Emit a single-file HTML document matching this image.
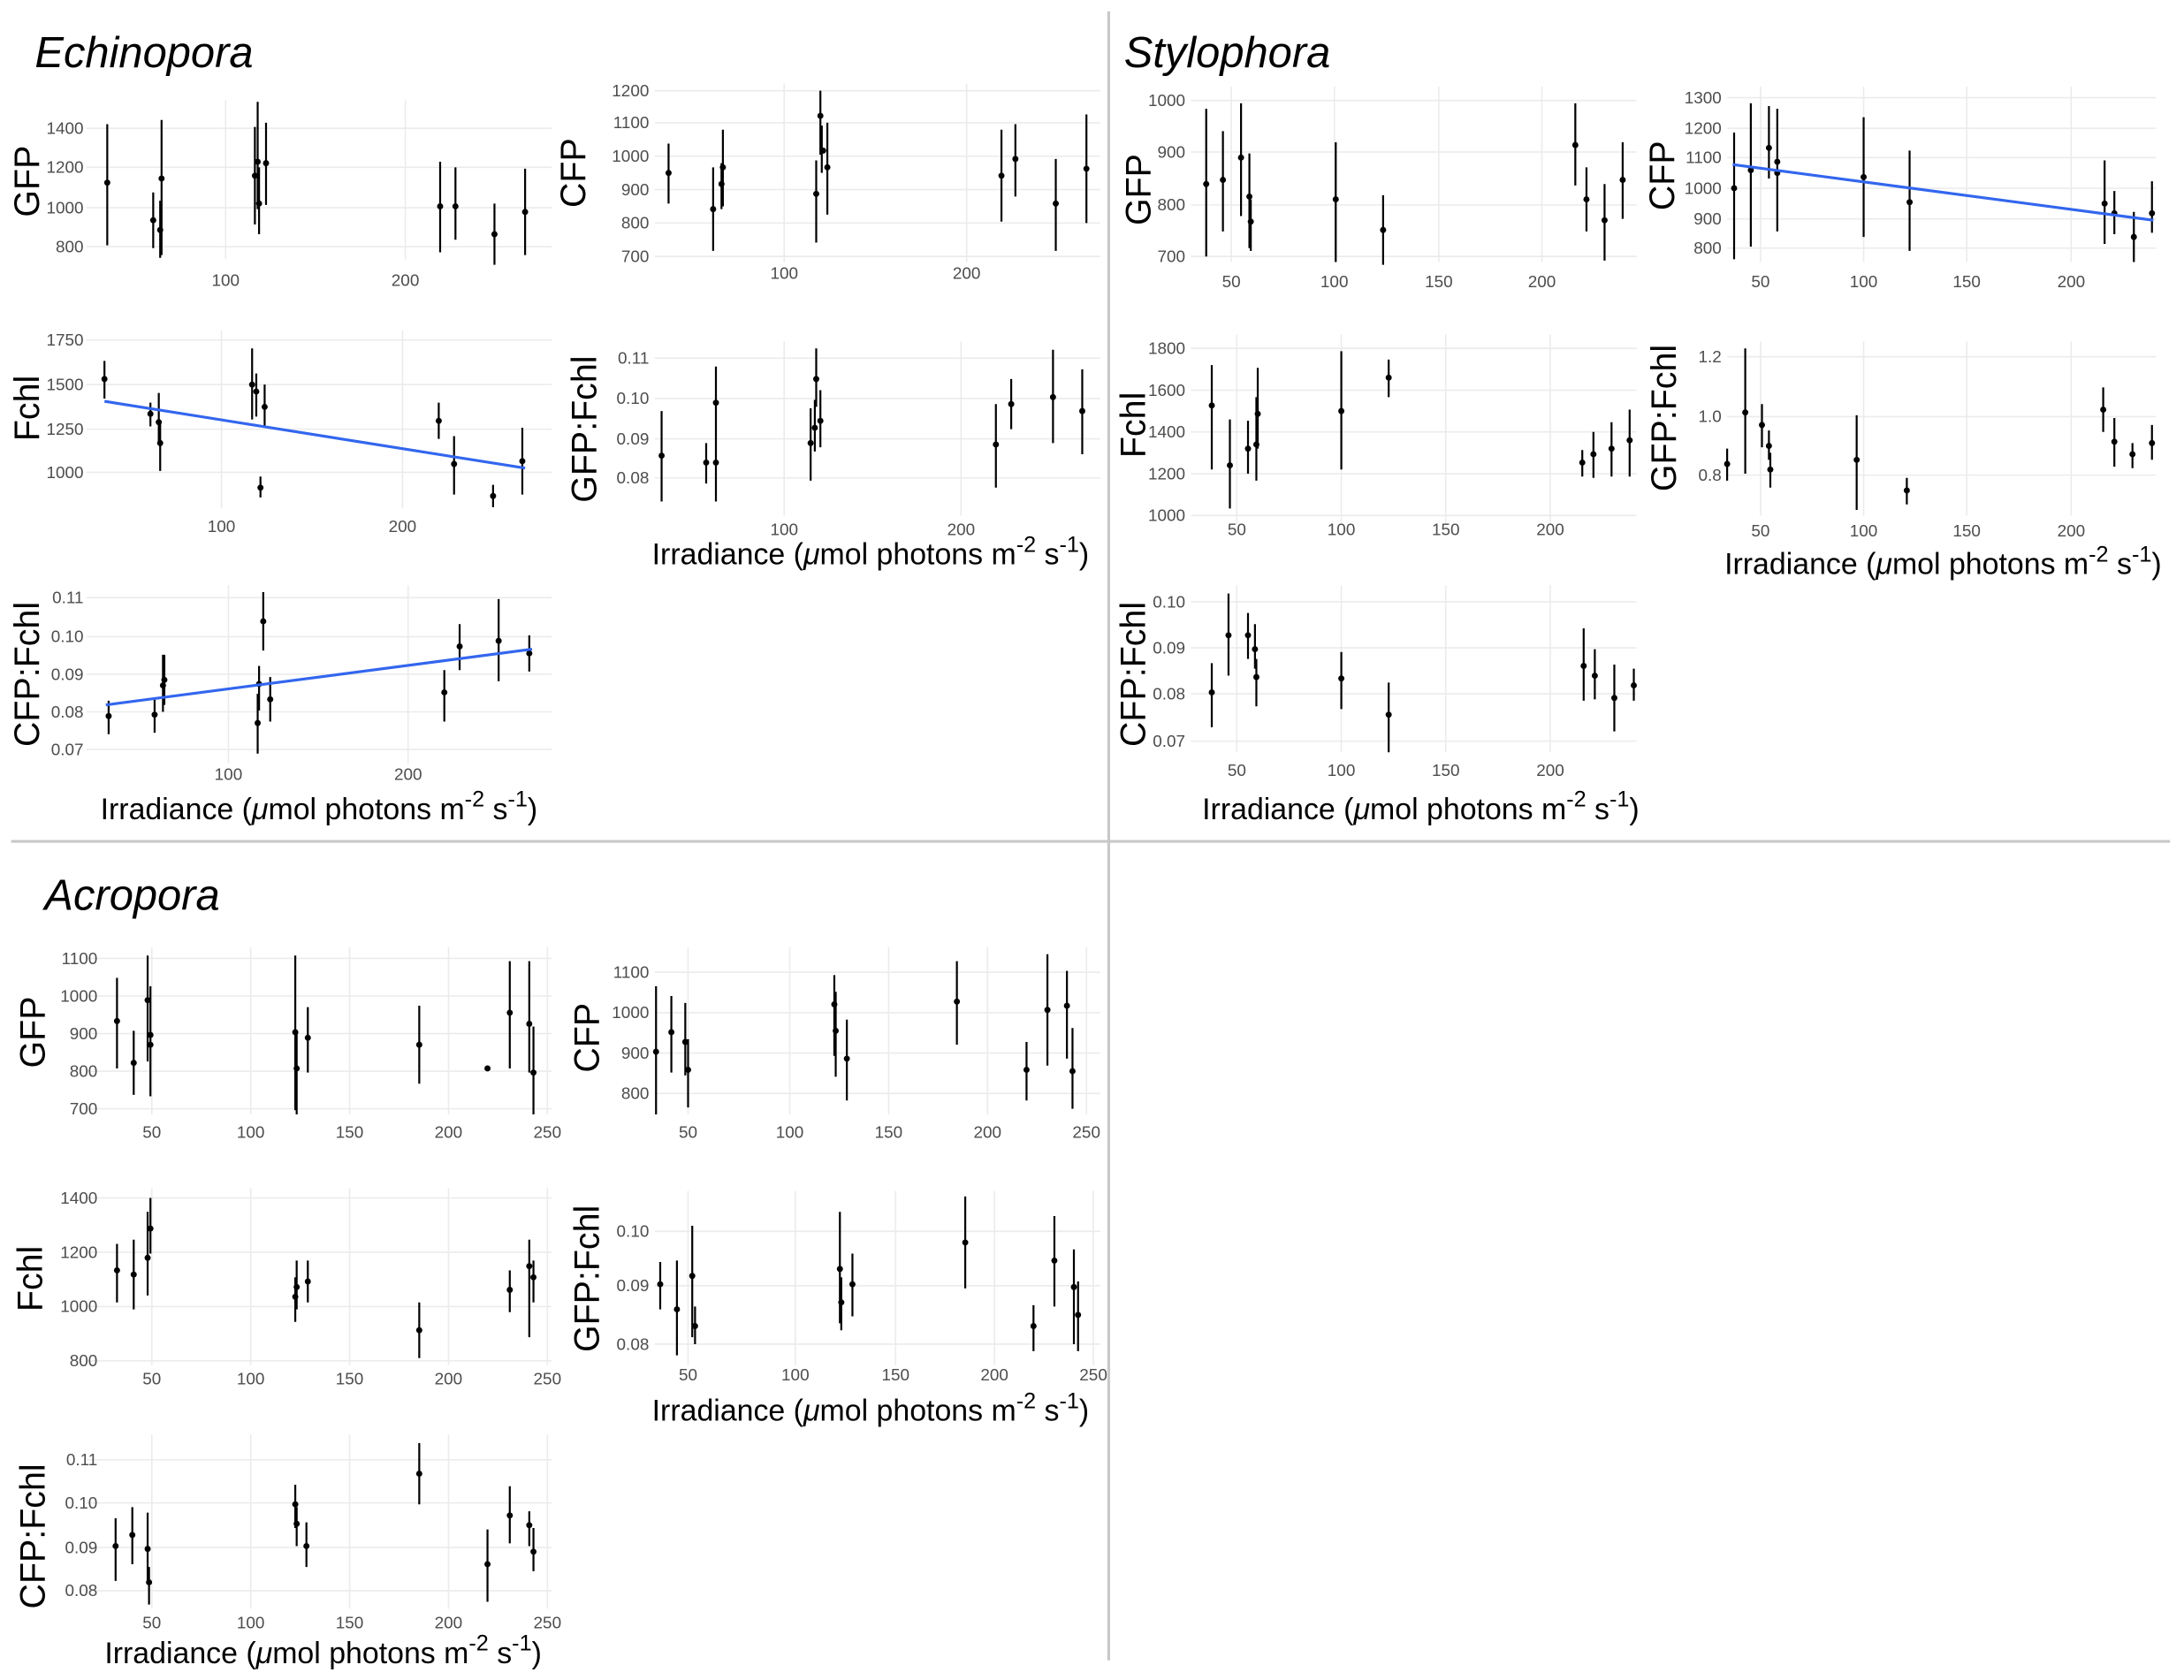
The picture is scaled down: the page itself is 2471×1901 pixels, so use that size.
<!DOCTYPE html>
<html><head><meta charset="utf-8"><style>
html,body{margin:0;padding:0;background:#fff}
svg{display:block}
text{font-family:"Liberation Sans",sans-serif}
.t{font-size:12px;fill:#4d4d4d}
.yl{font-size:25px;fill:#000}
.xl{font-size:21.5px;fill:#000}
.h{font-size:31px;font-style:italic;fill:#000}
.g{stroke:#ebebeb;stroke-width:1}
.e{stroke:#000;stroke-width:1.4;fill:none}
.r{stroke:#3366ee;stroke-width:2;fill:none}
</style></head><body>
<svg width="2471" height="1901" viewBox="0 0 1568 1206" xmlns="http://www.w3.org/2000/svg">
<rect width="1568" height="1206" fill="#fff"/>
<line x1="796" y1="8" x2="796" y2="1192" stroke="#c8c8c8" stroke-width="2"/>
<line x1="8" y1="604" x2="1558" y2="604" stroke="#c8c8c8" stroke-width="2"/>
<text class="h" x="25" y="48">Echinopora</text>
<text class="h" x="807" y="48">Stylophora</text>
<text class="h" x="32" y="653">Acropora</text>

<!-- Echinopora GFP -->
<g class="g"><path d="M62 92H396M62 120H396M62 149H396M62 177H396M162 72V186M291 72V186"/></g>
<g class="t" text-anchor="end"><text x="60" y="96">1400</text><text x="60" y="124">1200</text><text x="60" y="153">1000</text><text x="60" y="181">800</text></g>
<g class="t" text-anchor="middle"><text x="162" y="205">100</text><text x="291" y="205">200</text></g>
<text class="yl" transform="translate(28,130) rotate(-90)" text-anchor="middle">GFP</text>
<path class="e" d="M77 89V176M110 138V178M115 144V185M116 86V183M183 91V161M185 73V150M186 120V168M191 88V147M316 116V181M327 120V172M355 146V190M377 121V183"/>
<g><circle cx="77" cy="131" r="2.2"/><circle cx="110" cy="158" r="2.2"/><circle cx="115" cy="165" r="2.2"/><circle cx="116" cy="128" r="2.2"/><circle cx="183" cy="126" r="2.2"/><circle cx="185" cy="116" r="2.2"/><circle cx="186" cy="146" r="2.2"/><circle cx="191" cy="117" r="2.2"/><circle cx="316" cy="148" r="2.2"/><circle cx="327" cy="148" r="2.2"/><circle cx="355" cy="168" r="2.2"/><circle cx="377" cy="152" r="2.2"/></g>

<!-- Echinopora CFP -->
<g class="g"><path d="M470 65H790M470 88H790M470 112H790M470 136H790M470 160H790M470 184H790M563 60V188M694 60V188"/></g>
<g class="t" text-anchor="end"><text x="466" y="69">1200</text><text x="466" y="92">1100</text><text x="466" y="116">1000</text><text x="466" y="140">900</text><text x="466" y="164">800</text><text x="466" y="188">700</text></g>
<g class="t" text-anchor="middle"><text x="563" y="200">100</text><text x="694" y="200">200</text></g>
<text class="yl" transform="translate(420,124) rotate(-90)" text-anchor="middle">CFP</text>
<path class="e" d="M480 103V146M512 120V180M518 117V150M519 93V148M586 115V174M589 65V111M590 90V124M594 88V154M719 93V159M729 89V141M758 114V180M780 82V160"/>
<g><circle cx="480" cy="124" r="2.2"/><circle cx="512" cy="150" r="2.2"/><circle cx="518" cy="132" r="2.2"/><circle cx="519" cy="120" r="2.2"/><circle cx="586" cy="139" r="2.2"/><circle cx="589" cy="83" r="2.2"/><circle cx="591" cy="108" r="2.2"/><circle cx="594" cy="120" r="2.2"/><circle cx="719" cy="126" r="2.2"/><circle cx="729" cy="114" r="2.2"/><circle cx="758" cy="146" r="2.2"/><circle cx="780" cy="121" r="2.2"/></g>

<!-- Echinopora Fchl -->
<g class="g"><path d="M62 244H396M62 276H396M62 308H396M62 339H396M159 237V365M289 237V365"/></g>
<g class="t" text-anchor="end"><text x="60" y="248">1750</text><text x="60" y="280">1500</text><text x="60" y="312">1250</text><text x="60" y="343">1000</text></g>
<g class="t" text-anchor="middle"><text x="159" y="382">100</text><text x="289" y="382">200</text></g>
<text class="yl" transform="translate(28,293) rotate(-90)" text-anchor="middle">Fchl</text>
<path class="e" d="M75 259V286M108 289V306M114 282V319M115 303V338M181 250V301M184 268V299M187 342V357M190 276V306M315 289V315M326 313V355M354 348V364M375 307V355"/>
<g><circle cx="75" cy="272" r="2.2"/><circle cx="108" cy="297" r="2.2"/><circle cx="114" cy="303" r="2.2"/><circle cx="115" cy="318" r="2.2"/><circle cx="181" cy="276" r="2.2"/><circle cx="184" cy="281" r="2.2"/><circle cx="187" cy="350" r="2.2"/><circle cx="190" cy="292" r="2.2"/><circle cx="315" cy="302" r="2.2"/><circle cx="326" cy="333" r="2.2"/><circle cx="354" cy="356" r="2.2"/><circle cx="375" cy="331" r="2.2"/></g>
<line class="r" x1="75" y1="288" x2="377" y2="336"/>

<!-- Echinopora GFP:Fchl -->
<g class="g"><path d="M470 257H790M470 286H790M470 315H790M470 343H790M563 245V370M690 245V370"/></g>
<g class="t" text-anchor="end"><text x="466" y="261">0.11</text><text x="466" y="290">0.10</text><text x="466" y="319">0.09</text><text x="466" y="347">0.08</text></g>
<g class="t" text-anchor="middle"><text x="563" y="384">100</text><text x="690" y="384">200</text></g>
<text class="yl" transform="translate(428,308) rotate(-90)" text-anchor="middle">GFP:Fchl</text>
<text class="xl" x="625" y="405" text-anchor="middle">Irradiance (<tspan font-style="italic">μ</tspan>mol photons m<tspan dy="-9" font-size="16">-2</tspan><tspan dy="9"> s</tspan><tspan dy="-9" font-size="16">-1</tspan><tspan dy="9">)</tspan></text>
<path class="e" d="M475 295V360M507 318V347M514 263V360M514 318V347M582 293V345M585 287V324M586 250V292M589 280V321M715 290V350M726 272V308M756 251V318M777 265V326"/>
<g><circle cx="475" cy="327" r="2.2"/><circle cx="507" cy="332" r="2.2"/><circle cx="514" cy="289" r="2.2"/><circle cx="514" cy="332" r="2.2"/><circle cx="582" cy="318" r="2.2"/><circle cx="585" cy="307" r="2.2"/><circle cx="586" cy="272" r="2.2"/><circle cx="589" cy="302" r="2.2"/><circle cx="715" cy="319" r="2.2"/><circle cx="726" cy="290" r="2.2"/><circle cx="756" cy="285" r="2.2"/><circle cx="777" cy="295" r="2.2"/></g>

<!-- Echinopora CFP:Fchl -->
<g class="g"><path d="M62 429H396M62 457H396M62 484H396M62 511H396M62 538H396M164 420V548M293 420V548"/></g>
<g class="t" text-anchor="end"><text x="60" y="433">0.11</text><text x="60" y="461">0.10</text><text x="60" y="488">0.09</text><text x="60" y="515">0.08</text><text x="60" y="542">0.07</text></g>
<g class="t" text-anchor="middle"><text x="164" y="560">100</text><text x="293" y="560">200</text></g>
<text class="yl" transform="translate(28,484) rotate(-90)" text-anchor="middle">CFP:Fchl</text>
<text class="xl" x="229" y="588" text-anchor="middle">Irradiance (<tspan font-style="italic">μ</tspan>mol photons m<tspan dy="-9" font-size="16">-2</tspan><tspan dy="9"> s</tspan><tspan dy="-9" font-size="16">-1</tspan><tspan dy="9">)</tspan></text>
<path class="e" d="M78 503V527M111 502V526M117 470V511M118 470V506M185 498V541M186 478V510M189 425V467M194 486V518M319 481V518M330 448V481M358 430V489M380 456V482"/>
<g><circle cx="78" cy="514" r="2.2"/><circle cx="111" cy="513" r="2.2"/><circle cx="117" cy="492" r="2.2"/><circle cx="118" cy="488" r="2.2"/><circle cx="185" cy="519" r="2.2"/><circle cx="186" cy="491" r="2.2"/><circle cx="189" cy="446" r="2.2"/><circle cx="194" cy="502" r="2.2"/><circle cx="319" cy="497" r="2.2"/><circle cx="330" cy="464" r="2.2"/><circle cx="358" cy="460" r="2.2"/><circle cx="380" cy="469" r="2.2"/></g>
<line class="r" x1="76" y1="506" x2="382" y2="466"/>

<!-- Stylophora GFP -->
<g class="g"><path d="M855 72H1175M855 109H1175M855 147H1175M855 184H1175M884 62V188M958 62V188M1033 62V188M1107 62V188"/></g>
<g class="t" text-anchor="end"><text x="851" y="76">1000</text><text x="851" y="113">900</text><text x="851" y="151">800</text><text x="851" y="188">700</text></g>
<g class="t" text-anchor="middle"><text x="884" y="206">50</text><text x="958" y="206">100</text><text x="1033" y="206">150</text><text x="1107" y="206">200</text></g>
<text class="yl" transform="translate(826,136) rotate(-90)" text-anchor="middle">GFP</text>
<path class="e" d="M866 78V184M878 94V166M891 74V155M897 110V178M898 143V180M959 102V188M993 140V190M1131 74V133M1139 120V166M1152 132V187M1165 102V157"/>
<g><circle cx="866" cy="132" r="2.2"/><circle cx="878" cy="129" r="2.2"/><circle cx="891" cy="113" r="2.2"/><circle cx="897" cy="141" r="2.2"/><circle cx="898" cy="159" r="2.2"/><circle cx="959" cy="143" r="2.2"/><circle cx="993" cy="165" r="2.2"/><circle cx="1131" cy="104" r="2.2"/><circle cx="1139" cy="143" r="2.2"/><circle cx="1152" cy="158" r="2.2"/><circle cx="1165" cy="129" r="2.2"/></g>

<!-- Stylophora CFP -->
<g class="g"><path d="M1240 70H1548M1240 92H1548M1240 113H1548M1240 135H1548M1240 157H1548M1240 178H1548M1264 62V188M1338 62V188M1412 62V188M1487 62V188"/></g>
<g class="t" text-anchor="end"><text x="1236" y="74">1300</text><text x="1236" y="96">1200</text><text x="1236" y="117">1100</text><text x="1236" y="139">1000</text><text x="1236" y="161">900</text><text x="1236" y="182">800</text></g>
<g class="t" text-anchor="middle"><text x="1264" y="206">50</text><text x="1338" y="206">100</text><text x="1412" y="206">150</text><text x="1487" y="206">200</text></g>
<text class="yl" transform="translate(1202,126) rotate(-90)" text-anchor="middle">CFP</text>
<path class="e" d="M1245 95V186M1257 74V177M1270 76V128M1276 78V166M1338 84V170M1371 108V180M1511 115V175M1518 137V168M1532 152V188M1545 130V167"/>
<g><circle cx="1245" cy="135" r="2.2"/><circle cx="1257" cy="122" r="2.2"/><circle cx="1270" cy="106" r="2.2"/><circle cx="1276" cy="116" r="2.2"/><circle cx="1276" cy="124" r="2.2"/><circle cx="1338" cy="127" r="2.2"/><circle cx="1371" cy="145" r="2.2"/><circle cx="1511" cy="146" r="2.2"/><circle cx="1518" cy="153" r="2.2"/><circle cx="1532" cy="170" r="2.2"/><circle cx="1545" cy="153" r="2.2"/></g>
<line class="r" x1="1244" y1="118" x2="1546" y2="158"/>

<!-- Stylophora Fchl -->
<g class="g"><path d="M855 250H1175M855 280H1175M855 310H1175M855 340H1175M855 370H1175M888 240V376M963 240V376M1038 240V376M1113 240V376"/></g>
<g class="t" text-anchor="end"><text x="851" y="254">1800</text><text x="851" y="284">1600</text><text x="851" y="314">1400</text><text x="851" y="344">1200</text><text x="851" y="374">1000</text></g>
<g class="t" text-anchor="middle"><text x="888" y="384">50</text><text x="963" y="384">100</text><text x="1038" y="384">150</text><text x="1113" y="384">200</text></g>
<text class="yl" transform="translate(822,305) rotate(-90)" text-anchor="middle">Fchl</text>
<path class="e" d="M870 262V337M883 301V365M896 302V340M902 285V345M903 264V322M963 252V337M997 258V285M1136 323V342M1144 310V343M1157 303V342M1170 294V342"/>
<g><circle cx="870" cy="291" r="2.2"/><circle cx="883" cy="334" r="2.2"/><circle cx="896" cy="322" r="2.2"/><circle cx="902" cy="319" r="2.2"/><circle cx="903" cy="297" r="2.2"/><circle cx="963" cy="295" r="2.2"/><circle cx="997" cy="271" r="2.2"/><circle cx="1136" cy="332" r="2.2"/><circle cx="1144" cy="326" r="2.2"/><circle cx="1157" cy="322" r="2.2"/><circle cx="1170" cy="316" r="2.2"/></g>

<!-- Stylophora GFP:Fchl -->
<g class="g"><path d="M1240 256H1548M1240 299H1548M1240 341H1548M1264 245V370M1338 245V370M1412 245V370M1487 245V370"/></g>
<g class="t" text-anchor="end"><text x="1236" y="260">1.2</text><text x="1236" y="303">1.0</text><text x="1236" y="345">0.8</text></g>
<g class="t" text-anchor="middle"><text x="1264" y="385">50</text><text x="1338" y="385">100</text><text x="1412" y="385">150</text><text x="1487" y="385">200</text></g>
<text class="yl" transform="translate(1203,300) rotate(-90)" text-anchor="middle">GFP:Fchl</text>
<text class="xl" x="1395" y="412" text-anchor="middle">Irradiance (<tspan font-style="italic">μ</tspan>mol photons m<tspan dy="-9" font-size="16">-2</tspan><tspan dy="9"> s</tspan><tspan dy="-9" font-size="16">-1</tspan><tspan dy="9">)</tspan></text>
<path class="e" d="M1240 322V345M1253 250V340M1265 290V321M1270 309V330M1271 325V350M1333 298V366M1369 343V362M1510 278V310M1518 300V335M1531 318V336M1545 305V330"/>
<g><circle cx="1240" cy="333" r="2.2"/><circle cx="1253" cy="296" r="2.2"/><circle cx="1265" cy="305" r="2.2"/><circle cx="1270" cy="320" r="2.2"/><circle cx="1271" cy="337" r="2.2"/><circle cx="1333" cy="330" r="2.2"/><circle cx="1369" cy="352" r="2.2"/><circle cx="1510" cy="294" r="2.2"/><circle cx="1518" cy="317" r="2.2"/><circle cx="1531" cy="326" r="2.2"/><circle cx="1545" cy="318" r="2.2"/></g>

<!-- Stylophora CFP:Fchl -->
<g class="g"><path d="M855 432H1175M855 465H1175M855 498H1175M855 532H1175M888 420V540M963 420V540M1038 420V540M1113 420V540"/></g>
<g class="t" text-anchor="end"><text x="851" y="436">0.10</text><text x="851" y="469">0.09</text><text x="851" y="502">0.08</text><text x="851" y="536">0.07</text></g>
<g class="t" text-anchor="middle"><text x="888" y="557">50</text><text x="963" y="557">100</text><text x="1038" y="557">150</text><text x="1113" y="557">200</text></g>
<text class="yl" transform="translate(822,484) rotate(-90)" text-anchor="middle">CFP:Fchl</text>
<text class="xl" x="1020" y="588" text-anchor="middle">Irradiance (<tspan font-style="italic">μ</tspan>mol photons m<tspan dy="-9" font-size="16">-2</tspan><tspan dy="9"> s</tspan><tspan dy="-9" font-size="16">-1</tspan><tspan dy="9">)</tspan></text>
<path class="e" d="M870 476V522M882 426V485M896 440V473M901 448V480M902 473V507M963 468V509M997 490V540M1137 451V503M1145 466V502M1159 477V525M1173 480V503"/>
<g><circle cx="870" cy="497" r="2.2"/><circle cx="882" cy="456" r="2.2"/><circle cx="896" cy="456" r="2.2"/><circle cx="901" cy="466" r="2.2"/><circle cx="902" cy="486" r="2.2"/><circle cx="963" cy="487" r="2.2"/><circle cx="997" cy="513" r="2.2"/><circle cx="1137" cy="478" r="2.2"/><circle cx="1145" cy="485" r="2.2"/><circle cx="1159" cy="501" r="2.2"/><circle cx="1173" cy="492" r="2.2"/></g>

<!-- Acropora GFP -->
<g class="g"><path d="M62 688H396M62 715H396M62 742H396M62 769H396M62 796H396M109 680V800M180 680V800M251 680V800M322 680V800M393 680V800"/></g>
<g class="t" text-anchor="end"><text x="70" y="692">1100</text><text x="70" y="719">1000</text><text x="70" y="746">900</text><text x="70" y="773">800</text><text x="70" y="800">700</text></g>
<g class="t" text-anchor="middle"><text x="109" y="817">50</text><text x="180" y="817">100</text><text x="251" y="817">150</text><text x="322" y="817">200</text><text x="393" y="817">250</text></g>
<text class="yl" transform="translate(32,741) rotate(-90)" text-anchor="middle">GFP</text>
<path class="e" d="M84 702V767M96 740V786M106 686V762M108 708V787M212 686V797M213 740V800M221 723V770M301 722V778M366 690V767M380 690V770M383 737V800"/>
<g><circle cx="84" cy="733" r="2.2"/><circle cx="96" cy="763" r="2.2"/><circle cx="106" cy="718" r="2.2"/><circle cx="108" cy="743" r="2.2"/><circle cx="108" cy="750" r="2.2"/><circle cx="212" cy="741" r="2.2"/><circle cx="213" cy="767" r="2.2"/><circle cx="221" cy="745" r="2.2"/><circle cx="301" cy="750" r="2.2"/><circle cx="350" cy="767" r="2.2"/><circle cx="366" cy="727" r="2.2"/><circle cx="380" cy="735" r="2.2"/><circle cx="383" cy="770" r="2.2"/></g>

<!-- Acropora CFP -->
<g class="g"><path d="M470 698H790M470 727H790M470 756H790M470 785H790M494 680V800M567 680V800M638 680V800M709 680V800M780 680V800"/></g>
<g class="t" text-anchor="end"><text x="466" y="702">1100</text><text x="466" y="731">1000</text><text x="466" y="760">900</text><text x="466" y="789">800</text></g>
<g class="t" text-anchor="middle"><text x="494" y="817">50</text><text x="567" y="817">100</text><text x="638" y="817">150</text><text x="709" y="817">200</text><text x="780" y="817">250</text></g>
<text class="yl" transform="translate(430,745) rotate(-90)" text-anchor="middle">CFP</text>
<path class="e" d="M471 708V800M482 715V770M492 720V772M494 746V795M599 700V758M600 712V773M608 732V790M687 690V750M737 748V790M752 685V765M766 697V760M770 738V796"/>
<g><circle cx="471" cy="755" r="2.2"/><circle cx="482" cy="741" r="2.2"/><circle cx="492" cy="748" r="2.2"/><circle cx="494" cy="768" r="2.2"/><circle cx="599" cy="721" r="2.2"/><circle cx="600" cy="740" r="2.2"/><circle cx="608" cy="760" r="2.2"/><circle cx="687" cy="719" r="2.2"/><circle cx="737" cy="768" r="2.2"/><circle cx="752" cy="725" r="2.2"/><circle cx="766" cy="722" r="2.2"/><circle cx="770" cy="769" r="2.2"/></g>

<!-- Acropora Fchl -->
<g class="g"><path d="M62 860H396M62 899H396M62 938H396M62 977H396M109 853V980M180 853V980M251 853V980M322 853V980M393 853V980"/></g>
<g class="t" text-anchor="end"><text x="70" y="864">1400</text><text x="70" y="903">1200</text><text x="70" y="942">1000</text><text x="70" y="981">800</text></g>
<g class="t" text-anchor="middle"><text x="109" y="994">50</text><text x="180" y="994">100</text><text x="251" y="994">150</text><text x="322" y="994">200</text><text x="393" y="994">250</text></g>
<text class="yl" transform="translate(30,918) rotate(-90)" text-anchor="middle">Fchl</text>
<path class="e" d="M84 893V935M96 890V940M106 870V930M108 860V900M212 917V949M213 905V940M221 905V935M301 935V975M366 912V942M380 890V960M383 905V935"/>
<g><circle cx="84" cy="912" r="2.2"/><circle cx="96" cy="915" r="2.2"/><circle cx="106" cy="903" r="2.2"/><circle cx="108" cy="882" r="2.2"/><circle cx="212" cy="931" r="2.2"/><circle cx="213" cy="924" r="2.2"/><circle cx="221" cy="920" r="2.2"/><circle cx="301" cy="955" r="2.2"/><circle cx="366" cy="926" r="2.2"/><circle cx="380" cy="909" r="2.2"/><circle cx="383" cy="917" r="2.2"/></g>

<!-- Acropora GFP:Fchl -->
<g class="g"><path d="M470 884H790M470 923H790M470 965H790M494 855V980M571 855V980M643 855V980M714 855V980M785 855V980"/></g>
<g class="t" text-anchor="end"><text x="466" y="888">0.10</text><text x="466" y="927">0.09</text><text x="466" y="969">0.08</text></g>
<g class="t" text-anchor="middle"><text x="494" y="991">50</text><text x="571" y="991">100</text><text x="643" y="991">150</text><text x="714" y="991">200</text><text x="785" y="991">250</text></g>
<text class="yl" transform="translate(430,918) rotate(-90)" text-anchor="middle">GFP:Fchl</text>
<text class="xl" x="625" y="1020" text-anchor="middle">Irradiance (<tspan font-style="italic">μ</tspan>mol photons m<tspan dy="-9" font-size="16">-2</tspan><tspan dy="9"> s</tspan><tspan dy="-9" font-size="16">-1</tspan><tspan dy="9">)</tspan></text>
<path class="e" d="M474 906V940M486 905V973M497 880V960M499 938V965M603 870V950M604 917V955M612 900V945M693 859V925M742 937V970M757 873V938M771 897V965M774 920V970"/>
<g><circle cx="474" cy="922" r="2.2"/><circle cx="486" cy="940" r="2.2"/><circle cx="497" cy="916" r="2.2"/><circle cx="499" cy="952" r="2.2"/><circle cx="603" cy="911" r="2.2"/><circle cx="604" cy="935" r="2.2"/><circle cx="612" cy="922" r="2.2"/><circle cx="693" cy="892" r="2.2"/><circle cx="742" cy="952" r="2.2"/><circle cx="757" cy="905" r="2.2"/><circle cx="771" cy="924" r="2.2"/><circle cx="774" cy="944" r="2.2"/></g>

<!-- Acropora CFP:Fchl -->
<g class="g"><path d="M62 1048H396M62 1079H396M62 1111H396M62 1142H396M109 1030V1155M180 1030V1155M251 1030V1155M322 1030V1155M393 1030V1155"/></g>
<g class="t" text-anchor="end"><text x="70" y="1052">0.11</text><text x="70" y="1083">0.10</text><text x="70" y="1115">0.09</text><text x="70" y="1146">0.08</text></g>
<g class="t" text-anchor="middle"><text x="109" y="1169">50</text><text x="180" y="1169">100</text><text x="251" y="1169">150</text><text x="322" y="1169">200</text><text x="393" y="1169">250</text></g>
<text class="yl" transform="translate(32,1103) rotate(-90)" text-anchor="middle">CFP:Fchl</text>
<text class="xl" x="232" y="1194" text-anchor="middle">Irradiance (<tspan font-style="italic">μ</tspan>mol photons m<tspan dy="-9" font-size="16">-2</tspan><tspan dy="9"> s</tspan><tspan dy="-9" font-size="16">-1</tspan><tspan dy="9">)</tspan></text>
<path class="e" d="M83 1090V1135M95 1082V1123M106 1086V1135M107 1125V1152M212 1066V1097M213 1082V1110M220 1093V1125M301 1036V1080M350 1098V1150M366 1067V1108M380 1085V1110M383 1097V1128"/>
<g><circle cx="83" cy="1110" r="2.2"/><circle cx="95" cy="1102" r="2.2"/><circle cx="106" cy="1112" r="2.2"/><circle cx="107" cy="1136" r="2.2"/><circle cx="212" cy="1080" r="2.2"/><circle cx="213" cy="1094" r="2.2"/><circle cx="220" cy="1110" r="2.2"/><circle cx="301" cy="1058" r="2.2"/><circle cx="350" cy="1123" r="2.2"/><circle cx="366" cy="1088" r="2.2"/><circle cx="380" cy="1095" r="2.2"/><circle cx="383" cy="1114" r="2.2"/></g>
</svg>
</body></html>
